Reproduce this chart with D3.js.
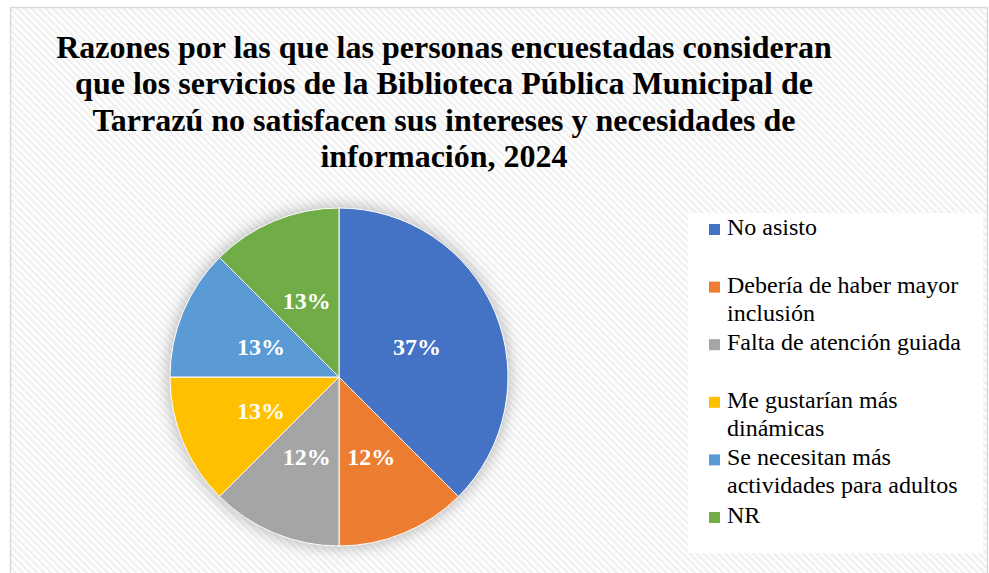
<!DOCTYPE html>
<html><head><meta charset="utf-8"><script src="https://cdn.jsdelivr.net/npm/d3@7"></script></head>
<body style="margin:0">
<svg id="chart" width="989" height="573"></svg>
<script>
const titleLines = [
  "Razones por las que las personas encuestadas consideran",
  "que los servicios de la Biblioteca Pública Municipal de",
  "Tarrazú no satisfacen sus intereses y necesidades de",
  "información, 2024"
];
const categories = [
  "No asisto",
  "Debería de haber mayor inclusión",
  "Falta de atención guiada",
  "Me gustarían más dinámicas",
  "Se necesitan más actividades para adultos",
  "NR"
];
const values = [37.5, 12.5, 12.5, 12.5, 12.5, 12.5];
const valueLabels = ["37%", "12%", "12%", "13%", "13%", "13%"];
const colors = ["#4472C4", "#ED7D31", "#A5A5A5", "#FFC000", "#5B9BD5", "#70AD47"];

const svg = d3.select("#chart");
const W = 989, H = 573;
const FONT = "Liberation Serif";

const defs = svg.append("defs");
const pat = defs.append("pattern")
  .attr("id", "hatch").attr("patternUnits", "userSpaceOnUse")
  .attr("width", 5).attr("height", 5)
  .attr("patternTransform", "rotate(-45)");
pat.append("rect").attr("width", 5).attr("height", 5).attr("fill", "#ffffff");
pat.append("rect").attr("width", 2.5).attr("height", 5).attr("fill", "#f0f0f0");

const flt = defs.append("filter").attr("id", "shadow")
  .attr("x", "-30%").attr("y", "-30%").attr("width", "160%").attr("height", "160%");
flt.append("feGaussianBlur").attr("stdDeviation", 7);

// background + border
svg.append("rect").attr("x", 0).attr("y", 0).attr("width", W).attr("height", H).attr("fill", "#ffffff");
svg.append("rect").attr("x", 10.5).attr("y", 7.5).attr("width", 977).attr("height", 580)
  .attr("fill", "url(#hatch)").attr("stroke", "#d9d9d9").attr("stroke-width", 1.5);

// title
titleLines.forEach((t, i) => {
  svg.append("text").attr("x", 444).attr("y", 58 + i * 36.4)
    .attr("text-anchor", "middle")
    .attr("font-size", 32).attr("font-weight", "bold")
    .style("font-family", FONT)
    .attr("fill", "#000").text(t);
});

// pie
const cx = 339, cy = 377, R = 169;
svg.append("circle").attr("cx", cx).attr("cy", cy).attr("r", R + 3)
  .attr("fill", "#999999").attr("opacity", 0.6).attr("filter", "url(#shadow)");

const pie = d3.pie().sort(null).value(d => d);
const arcs = pie(values);
const arc = d3.arc().innerRadius(0).outerRadius(R);

arcs.forEach((d, i) => {
  svg.append("path").attr("transform", `translate(${cx},${cy})`)
    .attr("d", arc(d)).attr("fill", colors[i])
    .attr("stroke", "#ffffff").attr("stroke-width", 1);
});
arcs.forEach((d, i) => {
  const c = arc.centroid(d);
  svg.append("text").attr("x", cx + c[0]).attr("y", cy + c[1] + 10)
    .attr("text-anchor", "middle")
    .attr("font-size", 24).attr("font-weight", "bold")
    .style("font-family", FONT)
    .attr("fill", "#ffffff").text(valueLabels[i]);
});

// legend
svg.append("rect").attr("x", 688).attr("y", 213).attr("width", 295).attr("height", 340).attr("fill", "#ffffff");
const measurer = svg.append("text").attr("font-size", 24).style("font-family", FONT).attr("opacity", 0);
function wrap(str, maxW) {
  const words = str.split(" ");
  const lines = [];
  let cur = "";
  words.forEach(w => {
    const test = cur ? cur + " " + w : w;
    measurer.text(test);
    if (cur && measurer.node().getComputedTextLength() > maxW) { lines.push(cur); cur = w; }
    else cur = test;
  });
  if (cur) lines.push(cur);
  return lines;
}
categories.forEach((c, i) => {
  const y0 = 235 + i * 57.6;
  svg.append("rect").attr("x", 709).attr("y", y0 - 11).attr("width", 11).attr("height", 11).attr("fill", colors[i]);
  const lines = wrap(c, 248);
  lines.forEach((ln, j) => {
    svg.append("text").attr("x", 727).attr("y", y0 + j * 28)
      .attr("font-size", 24).style("font-family", FONT)
      .attr("fill", "#000").text(ln);
  });
});
measurer.remove();
</script>
</body>
</html>
